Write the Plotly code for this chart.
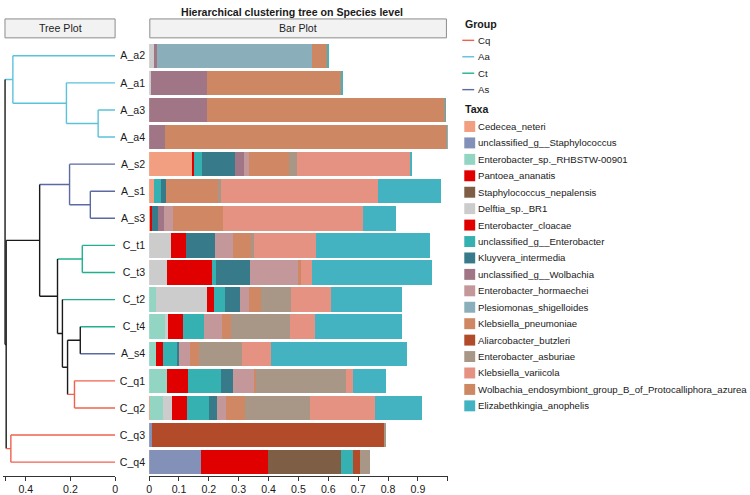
import plotly.graph_objects as go

W, H = 750, 495
FONT = "Liberation Sans, Arial, sans-serif"

# ---------------- data ----------------
samples = ["A_a2", "A_a1", "A_a3", "A_a4", "A_s2", "A_s1", "A_s3", "C_t1",
           "C_t3", "C_t2", "C_t4", "A_s4", "C_q1", "C_q2", "C_q3", "C_q4"]
sample_group = ["Aa", "Aa", "Aa", "Aa", "As", "As", "As", "Ct",
                "Ct", "Ct", "Ct", "As", "Cq", "Cq", "Cq", "Cq"]

group_names = ["Cq", "Aa", "Ct", "As"]
group_colors = ["#F0604D", "#5BC2DC", "#20B08E", "#5A6AA3"]

# hierarchical clustering merges: (child_a, child_b, height); nodes named n1, n2, ...
merges = [
    ("A_a3", "A_a4", 0.076),   # n1
    ("A_a1", "n1", 0.218),     # n2
    ("A_a2", "n2", 0.458),     # n3
    ("A_s1", "A_s3", 0.111),   # n4
    ("A_s2", "n4", 0.204),     # n5
    ("C_t1", "C_t3", 0.147),   # n6
    ("C_t4", "A_s4", 0.156),   # n7
    ("C_q1", "C_q2", 0.182),   # n8
    ("n7", "n8", 0.213),       # n9
    ("C_t2", "n9", 0.236),     # n10
    ("n6", "n10", 0.258),      # n11
    ("n5", "n11", 0.338),      # n12
    ("C_q3", "C_q4", 0.467),   # n13
    ("n12", "n13", 0.488),     # n14
    ("n3", "n14", 0.493),      # n15
]

taxa = ["Cedecea_neteri", "unclassified_g__Staphylococcus", "Enterobacter_sp._RHBSTW-00901",
        "Pantoea_ananatis", "Staphylococcus_nepalensis", "Delftia_sp._BR1", "Enterobacter_cloacae",
        "unclassified_g__Enterobacter", "Kluyvera_intermedia", "unclassified_g__Wolbachia",
        "Enterobacter_hormaechei", "Plesiomonas_shigelloides", "Klebsiella_pneumoniae",
        "Aliarcobacter_butzleri", "Enterobacter_asburiae", "Klebsiella_variicola",
        "Wolbachia_endosymbiont_group_B_of_Protocalliphora_azurea", "Elizabethkingia_anophelis"]

cedecea_neteri = [0, 0, 0, 0, 0.144, 0.016, 0.003, 0, 0, 0, 0, 0, 0, 0.003, 0, 0]
uncl_staphylococcus = [0, 0, 0, 0, 0, 0, 0, 0, 0, 0, 0, 0, 0, 0, 0.011, 0.173]
enterobacter_rhbstw = [0, 0, 0, 0, 0, 0, 0, 0, 0, 0.023, 0.053, 0.022, 0.061, 0.044, 0, 0]
pantoea_ananatis = [0, 0, 0, 0, 0, 0, 0, 0, 0, 0, 0, 0, 0, 0, 0, 0.226]
staph_nepalensis = [0, 0, 0, 0, 0, 0, 0, 0, 0, 0, 0, 0, 0, 0, 0, 0.242]
delftia_br1 = [0.017, 0.007, 0, 0, 0, 0, 0, 0.072, 0.059, 0.172, 0.010, 0, 0, 0.031, 0, 0]
enterobacter_cloacae = [0, 0, 0, 0, 0.007, 0, 0.008, 0.050, 0.153, 0.022, 0.052, 0.025, 0.069, 0.049, 0, 0]
uncl_enterobacter = [0, 0, 0, 0, 0.027, 0.023, 0, 0, 0.013, 0.038, 0.068, 0.050, 0.112, 0.072, 0, 0.043]
kluyvera_intermedia = [0, 0, 0, 0, 0.111, 0.017, 0.020, 0.100, 0.113, 0.048, 0, 0.004, 0.039, 0.029, 0, 0]
uncl_wolbachia = [0.009, 0.188, 0.194, 0.053, 0.029, 0, 0.019, 0, 0, 0, 0, 0, 0, 0, 0, 0]
enterobacter_hormaechei = [0, 0, 0, 0, 0.017, 0, 0.031, 0.059, 0.159, 0.030, 0.061, 0.037, 0.072, 0.030, 0, 0]
plesiomonas_shigelloides = [0.518, 0, 0, 0, 0, 0, 0, 0, 0, 0, 0, 0, 0, 0, 0, 0]
klebsiella_pneumoniae = [0, 0, 0, 0, 0.133, 0.174, 0.167, 0.061, 0.013, 0.043, 0.031, 0.028, 0.006, 0.063, 0, 0]
aliarcobacter_butzleri = [0, 0, 0, 0, 0, 0, 0, 0, 0, 0, 0, 0, 0, 0, 0.777, 0.021]
enterobacter_asburiae = [0, 0, 0, 0, 0.027, 0.012, 0, 0.009, 0, 0.099, 0.196, 0.144, 0.301, 0.216, 0.003, 0.034]
klebsiella_variicola = [0, 0, 0, 0, 0.378, 0.524, 0.467, 0.209, 0.034, 0.134, 0.084, 0.097, 0.022, 0.220, 0, 0]
wolbachia_endosymbiont = [0.055, 0.450, 0.797, 0.945, 0, 0, 0, 0, 0, 0, 0, 0, 0, 0, 0, 0]
elizabethkingia_anophelis = [0.004, 0.004, 0.003, 0.003, 0.008, 0.211, 0.111, 0.379, 0.403, 0.237, 0.290, 0.456, 0.112, 0.156, 0, 0]

taxa_values = [cedecea_neteri, uncl_staphylococcus, enterobacter_rhbstw, pantoea_ananatis,
               staph_nepalensis, delftia_br1, enterobacter_cloacae, uncl_enterobacter,
               kluyvera_intermedia, uncl_wolbachia, enterobacter_hormaechei,
               plesiomonas_shigelloides, klebsiella_pneumoniae, aliarcobacter_butzleri,
               enterobacter_asburiae, klebsiella_variicola, wolbachia_endosymbiont,
               elizabethkingia_anophelis]

taxa_colors = ["#F29E80", "#8390B8", "#92D5C3", "#E00000", "#7E5F45", "#CCCCCC", "#E00000",
               "#36B1B1", "#377B8A", "#A07585", "#C4979B", "#8BAFBA", "#CF8863", "#B14B2A",
               "#A89787", "#E59282", "#CD8762", "#43B3C2"]

tree_ticks = [0.49, 0.4, 0.2, 0]
tree_ticktext = ["", "0.4", "0.2", "0"]
bar_ticks = [0, 0.1, 0.2, 0.3, 0.4, 0.5, 0.6, 0.7, 0.8, 0.9, 1.0]
bar_ticktext = ["0", "0.1", "0.2", "0.3", "0.4", "0.5", "0.6", "0.7", "0.8", "0.9", ""]

# ---------------- helpers ----------------
def px_x(p):
    return p / W


def px_y(p):
    return 1 - p / H


gcol = dict(zip(group_names, group_colors))
BLACK = "#1a1a1a"

# ---------------- dendrogram ----------------
pos = {s: (0.0, i) for i, s in enumerate(samples)}
grp = {s: g for s, g in zip(samples, sample_group)}
segs = {}


def add_seg(color, x0, y0, x1, y1):
    xs, ys = segs.setdefault(color, ([], []))
    xs += [x0, x1, None]
    ys += [y0, y1, None]


for k, (a, b, h) in enumerate(merges, start=1):
    name = f"n{k}"
    (xa, ya), (xb, yb) = pos[a], pos[b]
    pos[name] = (h, (ya + yb) / 2)
    grp[name] = grp[a] if grp[a] == grp[b] else None
    add_seg(gcol.get(grp[name], BLACK), h, ya, h, yb)
    add_seg(gcol.get(grp[a], BLACK), h, ya, xa, ya)
    add_seg(gcol.get(grp[b], BLACK), h, yb, xb, yb)

fig = go.Figure()
for color, (xs, ys) in segs.items():
    fig.add_trace(go.Scatter(x=xs, y=ys, mode="lines", line=dict(color=color, width=1.4),
                             xaxis="x", yaxis="y", showlegend=False, hoverinfo="skip",
                             cliponaxis=False))

# ---------------- stacked bars ----------------
ypos = list(range(len(samples)))
for name, vals, col in zip(taxa, taxa_values, taxa_colors):
    fig.add_trace(go.Bar(x=vals, y=ypos, orientation="h", name=name, width=0.9,
                         marker=dict(color=col, line=dict(width=0)),
                         xaxis="x2", yaxis="y2", showlegend=False))

# ---------------- layout ----------------
panel_top, panel_bot = 42.4, 477.6
ydom = [px_y(panel_bot), px_y(panel_top)]
yrange = [len(samples) - 0.5, -0.5]
tickfont = dict(family=FONT, size=10.6, color=BLACK)

fig.update_layout(
    width=W, height=H, margin=dict(l=0, r=0, t=0, b=0),
    paper_bgcolor="white", plot_bgcolor="white",
    barmode="stack", bargap=0.1, showlegend=False,
    font=dict(family=FONT, color=BLACK),
    xaxis=dict(domain=[px_x(0.5), px_x(113)], range=[0.5, 0], tickvals=tree_ticks,
               ticktext=tree_ticktext, showline=True, linecolor="#333", linewidth=1,
               ticks="outside", ticklen=4, tickcolor="#333", showgrid=False, zeroline=False,
               tickfont=tickfont, fixedrange=True),
    yaxis=dict(domain=ydom, range=yrange, visible=False, fixedrange=True),
    xaxis2=dict(domain=[px_x(147.3), px_x(448.4)], range=[0, 1], tickvals=bar_ticks,
                ticktext=bar_ticktext, showline=True, linecolor="#333", linewidth=1,
                ticks="outside", ticklen=4, tickcolor="#333", showgrid=False, zeroline=False,
                tickfont=tickfont, anchor="y2"),
    yaxis2=dict(domain=ydom, range=yrange, tickvals=ypos, ticktext=samples, ticks="",
                showline=False, showgrid=False, zeroline=False, tickfont=tickfont,
                anchor="x2", ticklabelstandoff=3),
)

shapes = []
annotations = []

# title
annotations.append(dict(x=px_x(291), y=px_y(12), xref="paper", yref="paper",
                        text="<b>Hierarchical clustering tree on Species level</b>",
                        showarrow=False, font=dict(family=FONT, size=10.6, color=BLACK),
                        xanchor="center", yanchor="middle"))

# strip headers
for (x0, x1), label in [((2, 113), "Tree Plot"), ((148, 447), "Bar Plot")]:
    shapes.append(dict(type="rect", xref="paper", yref="paper", x0=px_x(x0), x1=px_x(x1),
                       y0=px_y(38), y1=px_y(19), fillcolor="#F2F2F2",
                       line=dict(color="#8C8C8C", width=1)))
    annotations.append(dict(x=px_x((x0 + x1) / 2), y=px_y(28.5), xref="paper", yref="paper",
                            text=label, showarrow=False,
                            font=dict(family=FONT, size=10.6, color="#222"),
                            xanchor="center", yanchor="middle"))

# legend: Group
LX = 463
annotations.append(dict(x=px_x(LX + 2), y=px_y(24), xref="paper", yref="paper",
                        text="<b>Group</b>", showarrow=False,
                        font=dict(family=FONT, size=10.6, color=BLACK),
                        xanchor="left", yanchor="middle", xshift=-1))
pitch = 16.5
for i, (g, c) in enumerate(zip(group_names, group_colors)):
    yy = 40.5 + pitch * i
    shapes.append(dict(type="line", xref="paper", yref="paper", x0=px_x(LX), x1=px_x(475),
                       y0=px_y(yy), y1=px_y(yy), line=dict(color=c, width=1.4)))
    annotations.append(dict(x=px_x(477), y=px_y(yy), xref="paper", yref="paper", text=g,
                            showarrow=False, font=dict(family=FONT, size=9.6, color=BLACK),
                            xanchor="left", yanchor="middle"))

# legend: Taxa
annotations.append(dict(x=px_x(LX + 2), y=px_y(109), xref="paper", yref="paper",
                        text="<b>Taxa</b>", showarrow=False,
                        font=dict(family=FONT, size=10.6, color=BLACK),
                        xanchor="left", yanchor="middle", xshift=-1))
for i, (t, c) in enumerate(zip(taxa, taxa_colors)):
    yy = 127 + pitch * i
    shapes.append(dict(type="rect", xref="paper", yref="paper", x0=px_x(465), x1=px_x(476),
                       y0=px_y(yy + 5.5), y1=px_y(yy - 5.5), fillcolor=c,
                       line=dict(width=0)))
    annotations.append(dict(x=px_x(477), y=px_y(yy), xref="paper", yref="paper", text=t,
                            showarrow=False, font=dict(family=FONT, size=9.6, color=BLACK),
                            xanchor="left", yanchor="middle"))

fig.update_layout(shapes=shapes, annotations=annotations)
fig.write_html("out.html")
